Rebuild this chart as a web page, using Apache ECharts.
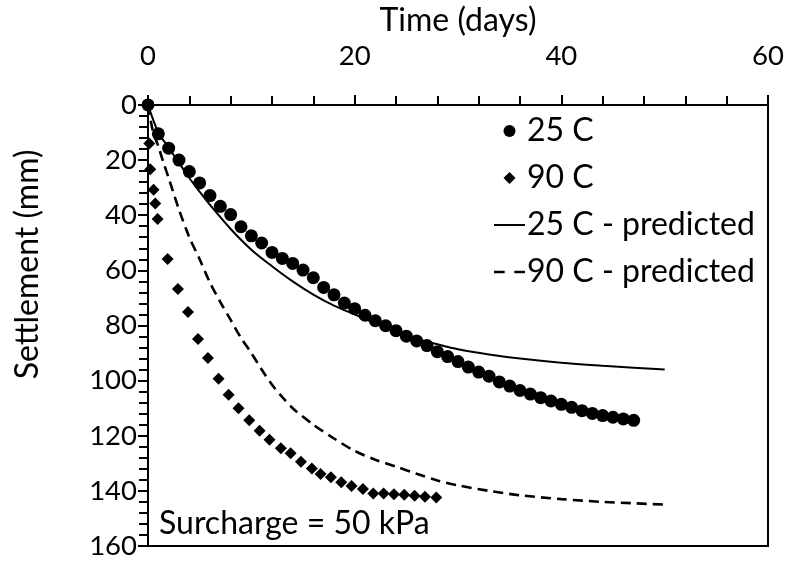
<!DOCTYPE html>
<html>
<head>
<meta charset="utf-8">
<script src="https://cdn.jsdelivr.net/npm/echarts@6/dist/echarts.min.js"></script>
<style>html,body{margin:0;padding:0;background:#fff}#c{width:788px;height:563px}</style>
</head>
<body>
<div id="c"></div>
<script>
// 25 C measured
const time25 = [0,1,2,3,4,5,6,7,8,9,10,11,12,13,14,15,16,17,18,19,20,21,22,23,24,25,26,27,28,29,30,31,32,33,34,35,36,37,38,39,40,41,42,43,44,45,46,47];
const settle25 = [0,10.5,15.7,20,24.2,28.3,32.9,36.8,39.8,44.2,47.5,50.1,53.5,55.7,57.5,59.9,62.7,66.2,68.9,71.9,73.9,76.3,78.3,80.1,81.9,83.9,85.6,87.3,89.5,91.3,93.1,95.1,96.9,98.4,100.5,102,103.6,104.9,106.2,107.4,108.6,109.7,110.9,111.9,112.7,113.3,113.9,114.4];
// 90 C measured
const time90 = [0.13,0.22,0.54,0.7,0.93,1.9,2.9,3.87,4.84,5.8,6.83,7.8,8.76,9.8,10.8,11.76,12.86,13.8,14.8,15.86,16.7,17.7,18.7,19.7,20.8,21.8,22.8,23.8,24.8,25.8,26.8,27.9];
const settle90 = [14,23.3,30.8,35.8,41.4,55.9,66.8,75.1,84.9,91.8,99.3,105.1,110,114.4,118.2,121.5,124.5,126.4,129.4,131.9,133.9,135.1,136.9,138.2,139.3,141,141,141.2,141.4,141.8,142.1,142.4];
// 25 C predicted
const timePred25 = [0,1,2,3,4,5,6,8,10,12,14,16,18,20,22,24,26,28,30,33,36,40,44,47,50];
const settlePred25 = [0,10,15.5,21,26.5,31.5,36.3,45,52.5,58.5,64,68.8,72.8,76,79.3,82.3,84.8,86.8,88.6,90.5,92,93.5,94.6,95.3,96];
// 90 C predicted
const timePred90 = [0,0.5,1,1.5,2,3,4,5,6,7,8,9,10,11,12,13,14,16,18,20,22,24,26,28,30,33,36,40,44,47,50];
const settlePred90 = [0,10,15,21,26.5,38,48,56,64.5,71.5,78,84.5,90,96,101.5,106,110,116,121,125.5,128.7,131.2,133.8,136.2,138,140,141.6,143,144,144.5,145];

const xTicks = [0,20,40,60];
const yTicks = [0,20,40,60,80,100,120,140,160];
const seriesNames = ['25 C','90 C','25 C - predicted','90 C - predicted'];

const zip = (a,b) => a.map((v,i)=>[v,b[i]]);
const FONT = 'Lato';
const BIG = 32;
const TICK = 27.5;
const chart = echarts.init(document.getElementById('c'), null, {renderer:'canvas'});
chart.setOption({
  animation:false,
  textStyle:{fontFamily:FONT,color:'#000'},
  grid:{left:148,right:20,top:98,bottom:17,show:true,borderColor:'#000',borderWidth:2,backgroundColor:'transparent'},
  legend:{
    data:[
      {name:seriesNames[0],icon:'circle'},
      {name:seriesNames[1],icon:'path://M5,0L10,5L5,10L0,5Z'},
      {name:seriesNames[2],icon:'path://M0,0H31V2H0Z'},
      {name:seriesNames[3],icon:'path://M0,0H10V2.5H0Z M19,0H29V2.5H19Z'}
    ],
    orient:'vertical',left:489,top:107,itemWidth:31,itemHeight:12,itemGap:9,
    itemStyle:{color:'#000',borderWidth:0},
    textStyle:{fontFamily:FONT,fontSize:BIG,color:'#000',padding:[0,0,0,-3],lineHeight:38},
    selectedMode:false
  },
  xAxis:{
    type:'value',position:'top',min:xTicks[0],max:xTicks[xTicks.length-1],interval:20,
    name:'Time (days)',nameLocation:'middle',nameGap:56,
    nameTextStyle:{fontFamily:FONT,fontSize:BIG,color:'#000'},
    axisLine:{show:true,onZero:false,lineStyle:{color:'#000',width:2}},
    axisTick:{show:true,length:10,lineStyle:{color:'#000',width:2}},
    minorTick:{show:true,splitNumber:5,length:9,lineStyle:{color:'#000',width:2}},
    axisLabel:{fontFamily:FONT,fontSize:TICK,color:'#000',margin:35},
    splitLine:{show:false}
  },
  yAxis:{
    type:'value',inverse:true,min:yTicks[0],max:yTicks[yTicks.length-1],interval:20,
    name:'Settlement (mm)',nameLocation:'middle',nameGap:104,
    nameTextStyle:{fontFamily:FONT,fontSize:BIG,color:'#000',padding:[0,0,0,122]},
    axisLine:{show:true,onZero:false,lineStyle:{color:'#000',width:2}},
    axisTick:{show:true,length:10,lineStyle:{color:'#000',width:2}},
    minorTick:{show:true,splitNumber:5,length:9,lineStyle:{color:'#000',width:2}},
    axisLabel:{fontFamily:FONT,fontSize:TICK,color:'#000',margin:11},
    splitLine:{show:false}
  },
  graphic:[{type:'text',left:159,top:508,style:{text:'Surcharge = 50 kPa',font:BIG+'px '+FONT,fill:'#000'}}],
  series:[
    {name:seriesNames[2],type:'line',data:zip(timePred25,settlePred25),showSymbol:false,symbol:'none',smooth:0.3,
     lineStyle:{color:'#000',width:2},itemStyle:{color:'#000'},z:2},
    {name:seriesNames[3],type:'line',data:zip(timePred90,settlePred90),showSymbol:false,symbol:'none',smooth:0.3,
     lineStyle:{color:'#000',width:2.6,type:[10,6]},itemStyle:{color:'#000'},z:2},
    {name:seriesNames[0],type:'scatter',data:zip(time25,settle25),symbol:'circle',symbolSize:13,
     itemStyle:{color:'#000',opacity:1},z:3},
    {name:seriesNames[1],type:'scatter',data:zip(time90,settle90),symbol:'diamond',symbolSize:12,
     itemStyle:{color:'#000',opacity:1},z:3}
  ]
});
</script>
</body>
</html>
